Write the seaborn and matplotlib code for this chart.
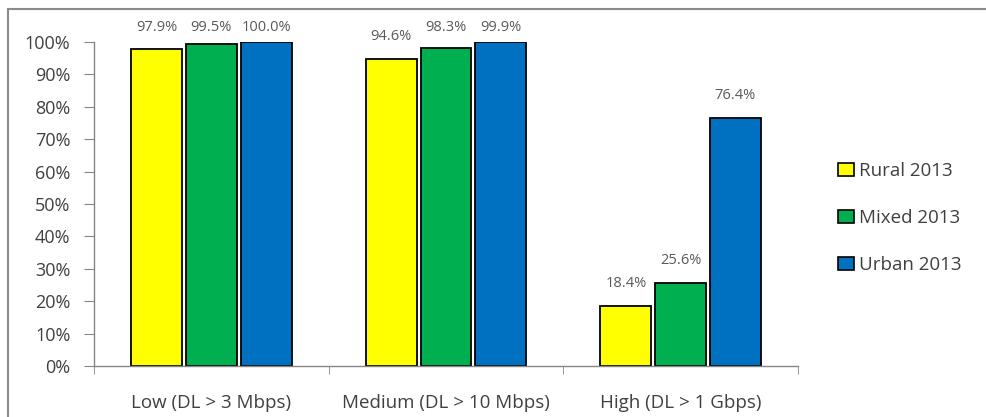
import pandas as pd
import seaborn as sns
import matplotlib.pyplot as plt
from matplotlib.patches import Rectangle, Patch
from matplotlib.ticker import PercentFormatter, FixedLocator

categories = ['Low (DL > 3 Mbps)', 'Medium (DL > 10 Mbps)', 'High (DL > 1 Gbps)']
series = ['Rural 2013', 'Mixed 2013', 'Urban 2013']
rural = [97.9, 94.6, 18.4]
mixed = [99.5, 98.3, 25.6]
urban = [100.0, 99.9, 76.4]
colors = ['#FFFF00', '#00B050', '#0070C0']

rows = []
for name, vals in zip(series, [rural, mixed, urban]):
    for cat, v in zip(categories, vals):
        rows.append({'category': cat, 'series': name, 'value': v})
df = pd.DataFrame(rows)

sns.set_style('white')
plt.rcParams['font.family'] = ['Open Sans', 'DejaVu Sans']

fig = plt.figure(figsize=(9.86, 4.17), dpi=100)
ax = fig.add_axes([94 / 986, 1 - 366 / 417, 704 / 986, 324 / 417])

sns.barplot(data=df, x='category', y='value', hue='series', palette=colors,
            saturation=1, width=0.70, gap=0.07, edgecolor='black',
            linewidth=1.3, legend=False, ax=ax)

# value labels above bars, pushed down under the top edge like Excel does
for cont in ax.containers:
    for bar in cont:
        v = bar.get_height()
        y = min(v + 7.0, 104.6)
        ax.text(bar.get_x() + bar.get_width() / 2, y, f'{v:.1f}%',
                ha='center', va='center', fontsize=10.5, color='#595959',
                clip_on=False)

ax.set_ylim(0, 100)
ax.set_xlim(-0.5, 2.5)
ax.set_yticks(range(0, 101, 10))
ax.yaxis.set_major_formatter(PercentFormatter(decimals=0))
ax.set_xlabel('')
ax.set_ylabel('')

for side in ['top', 'right']:
    ax.spines[side].set_visible(False)
for side in ['left', 'bottom']:
    ax.spines[side].set_color('#868686')
    ax.spines[side].set_linewidth(1.0)

ax.tick_params(axis='y', which='major', left=True, length=7, color='#868686',
               labelsize=13, labelcolor='#404040', pad=10)
ax.tick_params(axis='x', which='major', bottom=False, labelsize=13.5,
               labelcolor='#404040', pad=17)
ax.xaxis.set_minor_locator(FixedLocator([-0.5, 0.5, 1.5, 2.5]))
ax.tick_params(axis='x', which='minor', bottom=True, length=6, color='#868686')

handles = [Patch(facecolor=c, edgecolor='black', linewidth=1.2) for c in colors]
fig.legend(handles, series, loc='center left', bbox_to_anchor=(0.85, 0.477),
           frameon=False, fontsize=13.5, labelspacing=1.55, handlelength=0.85,
           handleheight=0.75, handletextpad=0.25, labelcolor='#404040',
           borderaxespad=0, borderpad=0)

fig.patches.append(Rectangle((7.5 / 986, -0.05), 1.1, 1 - 9 / 417 + 0.05,
                             transform=fig.transFigure, fill=False,
                             edgecolor='#8a8a8a', linewidth=1.5))

fig.savefig('out.png', dpi=100)
